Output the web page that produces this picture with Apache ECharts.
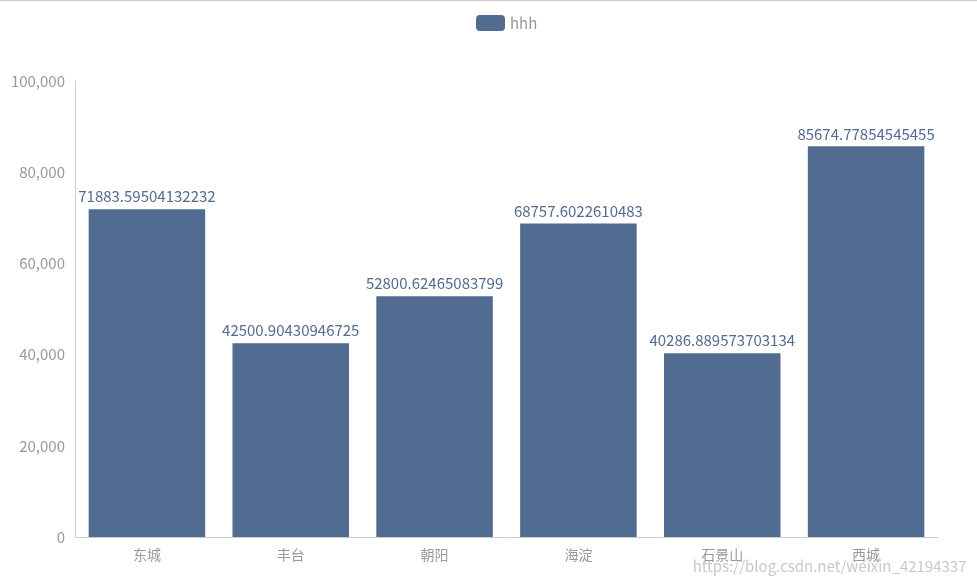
<!DOCTYPE html>
<html><head><meta charset="utf-8">
<script src="https://cdn.jsdelivr.net/npm/echarts@6/dist/echarts.min.js"></script>
<style>html,body{margin:0;padding:0;background:#fff}#c{width:977px;height:584px}#topline{position:absolute;left:0;top:0;width:977px;height:1px;background:#ccc;z-index:5}</style>
</head><body><div id="topline"></div><div id="c"></div>
<script>
var categories = ['东城', '丰台', '朝阳', '海淀', '石景山', '西城'];
var values = [71883.59504132232, 42500.90430946725, 52800.62465083799, 68757.6022610483, 40286.889573703134, 85674.77854545455];
var seriesName = 'hhh';
var yTicks = { min: 0, max: 100000, interval: 20000 };
var FONT = '"Noto Sans CJK SC", "Noto Sans", sans-serif';
var chart = echarts.init(document.getElementById('c'));
chart.setOption({
  animation: false,
  textStyle: { fontFamily: FONT },
  legend: {
    top: 10, left: 471, itemWidth: 29, itemHeight: 16, itemGap: 10,
    textStyle: { color: '#999', fontSize: 15, fontFamily: FONT },
    data: [seriesName]
  },
  grid: { left: 75, right: 39, top: 81, bottom: 47, containLabel: false },
  xAxis: {
    type: 'category', data: categories,
    axisLine: { lineStyle: { color: '#ccc' } },
    axisTick: { show: false },
    axisLabel: { color: '#999', fontSize: 14, margin: 11, fontFamily: FONT }
  },
  yAxis: {
    type: 'value', min: yTicks.min, max: yTicks.max, interval: yTicks.interval,
    axisLine: { show: true, lineStyle: { color: '#ccc' } },
    axisTick: { show: false },
    splitLine: { show: false },
    axisLabel: { color: '#999', fontSize: 15, margin: 10, fontFamily: FONT }
  },
  series: [{
    name: seriesName, type: 'bar', data: values, barCategoryGap: '19%',
    itemStyle: { color: '#516b91' },
    label: { show: true, position: 'top', color: '#516b91', fontSize: 15, distance: 5, fontFamily: FONT }
  }],
  graphic: [{
    type: 'text', right: 10, bottom: 10,
    style: { text: 'https://blog.csdn.net/weixin_42194337', fill: '#c8c8c8', font: '15px ' + FONT, stroke: '#fff', lineWidth: 1 }
  }]
});
</script></body></html>
